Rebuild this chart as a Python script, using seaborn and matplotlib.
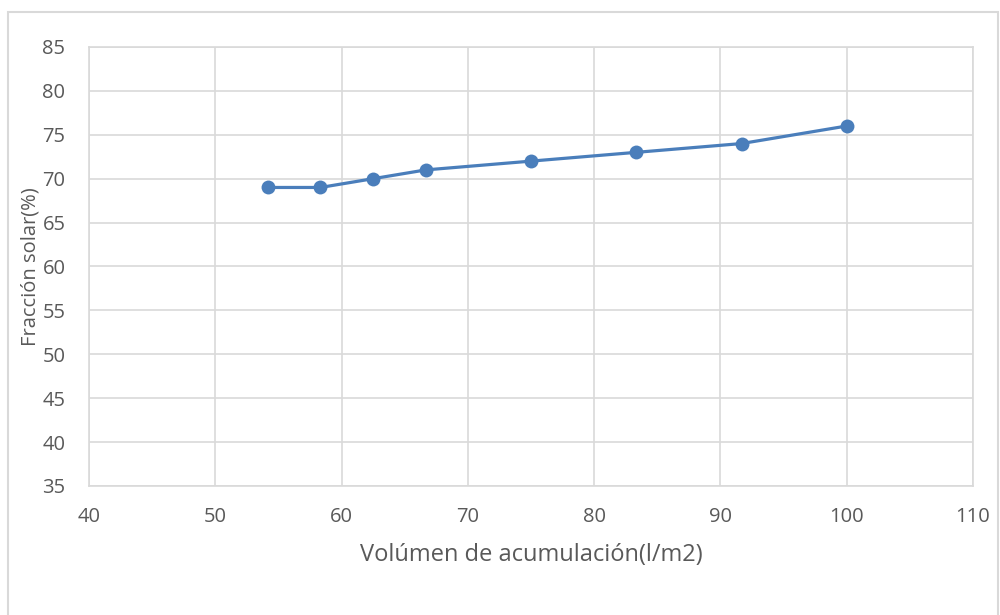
import matplotlib
matplotlib.use("Agg")
import matplotlib.pyplot as plt
import seaborn as sns
import pandas as pd
from matplotlib.patches import Rectangle

# Storage volume per collector area vs. solar fraction
volumen = [54.17, 58.33, 62.5, 66.67, 75.0, 83.33, 91.67, 100.0]
fraccion = [69, 69, 70, 71, 72, 73, 74, 76]
x_ticks = [40, 50, 60, 70, 80, 90, 100, 110]
y_ticks = [35, 40, 45, 50, 55, 60, 65, 70, 75, 80, 85]

df = pd.DataFrame({"volumen": volumen, "fraccion": fraccion})

sns.set_theme(style="white")
plt.rcParams["font.family"] = ["Open Sans", "DejaVu Sans"]

fig = plt.figure(figsize=(10, 6.15), dpi=100)
ax = fig.add_axes([0.089, 0.2098, 0.884, 0.7138])

grid_c = "#d9d9d9"
text_c = "#595959"
line_c = "#4a7ebb"

sns.lineplot(data=df, x="volumen", y="fraccion", ax=ax, color=line_c,
             linewidth=2.3, marker="o", markersize=10, markeredgewidth=0,
             markerfacecolor=line_c, zorder=3)

ax.set_xlim(40, 110)
ax.set_ylim(35, 85)
ax.set_xticks(x_ticks)
ax.set_yticks(y_ticks)
ax.grid(True, color=grid_c, linewidth=1.2)
for s in ax.spines.values():
    s.set_color(grid_c)
    s.set_linewidth(1.2)
ax.tick_params(axis="both", length=0, labelsize=14.5, labelcolor=text_c)
ax.tick_params(axis="x", pad=15)
ax.tick_params(axis="y", pad=17)

ax.set_xlabel("Volúmen de acumulación(l/m2)", fontsize=17, color=text_c, labelpad=12)
ax.set_ylabel("Fracción solar(%)", fontsize=14.5, color=text_c, labelpad=1)

# Chart-area frame
fig.patches.append(Rectangle((0.008, -0.01), 0.99, 0.99, transform=fig.transFigure,
                             fill=False, edgecolor=grid_c, linewidth=1.5))

fig.savefig("out.png", dpi=100, facecolor="white")
